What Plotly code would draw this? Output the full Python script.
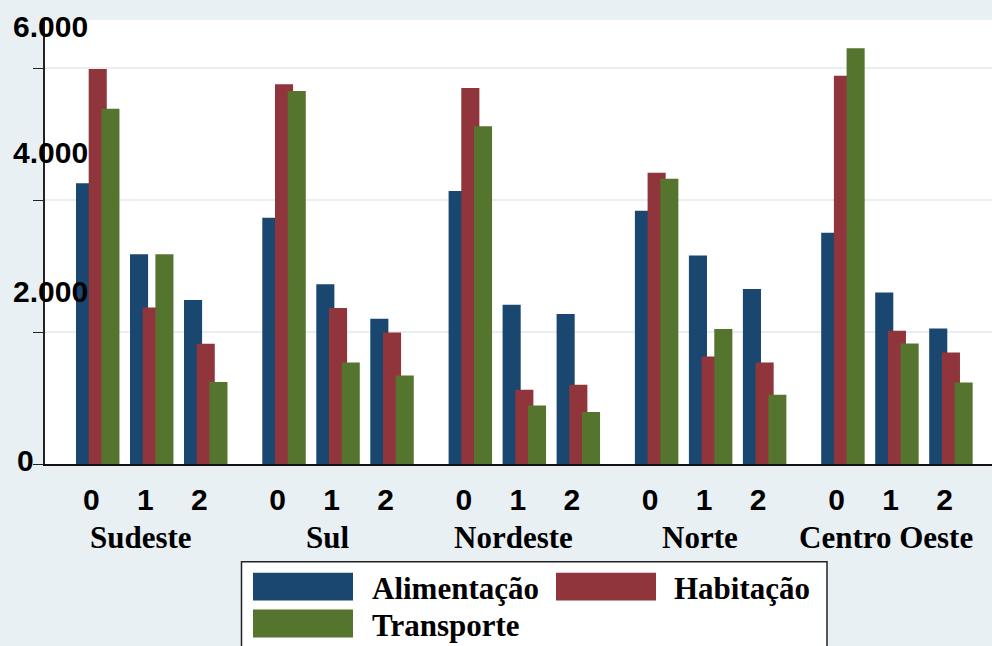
import plotly.graph_objects as go

# ---------------- data ----------------
regions = ["Sudeste", "Sul", "Nordeste", "Norte", "Centro Oeste"]
subgroups = ["0", "1", "2"]
series_names = ["Alimentação", "Habitação", "Transporte"]
alimentacao = [4258, 3182, 2485, 3732, 2727, 2202, 4141, 2414, 2273, 3838, 3161, 2652, 3505, 2600, 2055]
habitacao = [5989, 2373, 1823, 5758, 2364, 1994, 5702, 1126, 1202, 4414, 1630, 1539, 5888, 2020, 1691]
transporte = [5388, 3182, 1242, 5656, 1539, 1342, 5121, 888, 788, 4323, 2045, 1050, 6303, 1827, 1236]
y_ticks = [0, 2000, 4000, 6000]
y_tick_labels = ["0", "2.000", "4.000", "6.000"]

# ---------------- styling ----------------
colors = ["#1a476f", "#90353b", "#55752f"]
bg = "#e9f0f3"
W, H = 992, 646
ML, MR, MT = 45, 0, 20
PLOT_BOTTOM = 464.3
MB = H - PLOT_BOTTOM
GROUP_GAP = 0.45
bar_width = 0.335
offsets = [-0.283, -0.048, 0.187]

x_pos = [g * (len(subgroups) + GROUP_GAP) + s for g in range(len(regions)) for s in range(len(subgroups))]
ymax = (PLOT_BOTTOM - MT) / 132.0 * 2000

def px_x(px):
    return (px - ML) / (W - ML - MR)

def px_y(py):
    return (PLOT_BOTTOM - py) / (PLOT_BOTTOM - MT)

fig = go.Figure()
for name, vals, col, off in zip(series_names, [alimentacao, habitacao, transporte], colors, offsets):
    fig.add_trace(go.Bar(
        x=x_pos, y=vals, name=name, width=bar_width, offset=off,
        marker=dict(color=col, line=dict(width=0)), showlegend=False,
    ))

sans = "Liberation Sans, Arial, sans-serif"
serif = "Liberation Serif, Times New Roman, serif"

fig.update_layout(
    width=W, height=H, autosize=False,
    margin=dict(l=ML, r=MR, t=MT, b=MB, pad=0),
    paper_bgcolor=bg, plot_bgcolor="white",
    barmode="overlay", showlegend=False,
    xaxis=dict(
        range=[-0.857, 16.68], tickvals=x_pos, ticktext=subgroups * len(regions),
        showgrid=False, zeroline=False, showline=True, linecolor="#111", linewidth=1.5,
        ticks="", tickfont=dict(family=sans, size=30, color="black", weight="bold"),
        ticklabelstandoff=8,
    ),
    yaxis=dict(
        range=[0, ymax], tickvals=y_ticks, showticklabels=False,
        showgrid=True, gridcolor="#e8eff2", gridwidth=2, zeroline=False,
        showline=True, linecolor="#222", linewidth=1.5,
        ticks="outside", ticklen=10, tickwidth=1.3, tickcolor="#222",
    ),
)

# y tick labels (displaced, as in the reference)
yshifts = [4, 41, 48, 42]
xshifts = [-9, 45, 45, 45]
for v, t, ys, xs in zip(y_ticks, y_tick_labels, yshifts, xshifts):
    fig.add_annotation(x=0, xref="paper", y=v, yref="y", text=t, showarrow=False,
                       xanchor="right", yanchor="middle", xshift=xs, yshift=ys,
                       font=dict(family=sans, size=30, color="black", weight="bold"))

# region labels
for g, r in enumerate(regions):
    fig.add_annotation(x=x_pos[g * 3 + 1], xref="x", y=px_y(538), yref="paper", text=r,
                       showarrow=False, xanchor="center", yanchor="middle", xshift=-4,
                       font=dict(family=serif, size=31, color="black", weight="bold"))

# custom legend
fig.add_shape(type="rect", xref="paper", yref="paper",
              x0=px_x(241.5), x1=px_x(827), y0=px_y(562), y1=px_y(670),
              fillcolor="white", line=dict(color="#222", width=1.5), layer="above")
legend_items = [
    (series_names[0], colors[0], 253, 573, 370, 589),
    (series_names[1], colors[1], 556, 573, 672, 589),
    (series_names[2], colors[2], 253, 610, 370, 626),
]
for name, col, sx, sy, tx, ty in legend_items:
    fig.add_shape(type="rect", xref="paper", yref="paper",
                  x0=px_x(sx), x1=px_x(sx + 100), y0=px_y(sy), y1=px_y(sy + 28),
                  fillcolor=col, line=dict(width=0), layer="above")
    fig.add_annotation(x=px_x(tx), xref="paper", y=px_y(ty), yref="paper", text=name,
                       showarrow=False, xanchor="left", yanchor="middle",
                       font=dict(family=serif, size=31, color="black", weight="bold"))

fig.write_html(
    "out.html",
    config={"displayModeBar": False},
    post_script="document.body.style.margin='0';document.body.style.overflow='hidden';"
                "document.body.style.background='" + bg + "';",
)
